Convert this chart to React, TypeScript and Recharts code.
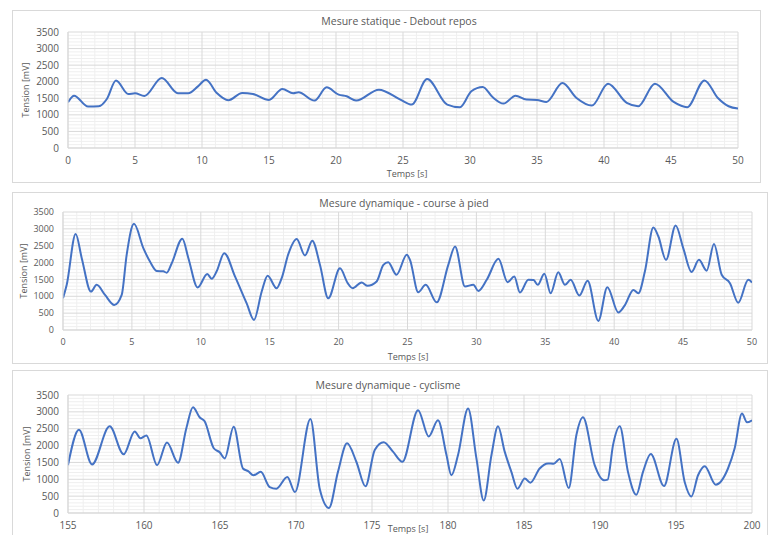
import React from 'react';
import { LineChart, Line, XAxis, YAxis, ReferenceLine } from 'recharts';

// ---- Data: Mesure statique - Debout repos ----
const staticTimes = [0, 0.45, 1.5, 2.3, 2.9, 3.58, 4.5, 5.0, 5.7, 7.0, 8.2, 8.97, 9.7, 10.3, 11.1, 11.96, 13.0, 13.8, 15.0, 16.0, 16.8, 17.2, 18.4, 19.3, 20.2, 20.8, 21.5, 23.2, 24.8, 25.65, 26.8, 28.3, 29.25, 30.1, 30.95, 31.7, 32.5, 33.4, 34.2, 35.0, 35.7, 36.9, 37.95, 39.1, 40.3, 41.7, 42.55, 43.8, 45.2, 46.2, 47.5, 48.5, 49.3, 50];
const staticValues = [1380, 1580, 1250, 1260, 1480, 2040, 1630, 1650, 1570, 2110, 1650, 1650, 1860, 2060, 1660, 1440, 1660, 1630, 1450, 1780, 1650, 1680, 1430, 1830, 1610, 1560, 1430, 1760, 1460, 1310, 2080, 1310, 1230, 1710, 1840, 1530, 1340, 1580, 1460, 1450, 1390, 1960, 1510, 1280, 1940, 1360, 1260, 1940, 1390, 1230, 2040, 1510, 1260, 1190];

// ---- Data: Mesure dynamique - course à pied ----
const runTimes = [0, 0.27, 0.92, 1.36, 2.03, 2.44, 3.05, 3.72, 4.26, 4.62, 5.15, 5.83, 6.31, 6.8, 7.28, 7.52, 7.89, 8.66, 9.1, 9.77, 10.47, 10.79, 11.15, 11.7, 12.48, 13.33, 13.86, 14.42, 14.85, 15.5, 15.87, 16.35, 16.96, 17.56, 18.09, 18.65, 19.25, 20.1, 20.66, 21.02, 21.67, 22.1, 22.76, 23.25, 23.6, 24.2, 24.95, 25.18, 25.78, 26.32, 27.12, 27.96, 28.45, 29.17, 29.78, 30.14, 30.75, 31.6, 32.26, 32.75, 33.16, 33.77, 34.15, 34.45, 34.93, 35.39, 35.94, 36.43, 36.84, 37.47, 38.07, 38.85, 39.5, 40.3, 40.78, 41.39, 41.75, 42.23, 42.84, 43.2, 43.76, 44.46, 45.01, 45.62, 46.15, 46.71, 47.24, 47.8, 48.4, 49.0, 49.73, 50];
const runValues = [940, 1340, 2850, 2130, 1140, 1340, 1040, 740, 1040, 2230, 3150, 2430, 2030, 1750, 1740, 1700, 1980, 2710, 2130, 1260, 1660, 1520, 1740, 2280, 1590, 790, 300, 1140, 1610, 1240, 1540, 2250, 2700, 2210, 2650, 1930, 940, 1830, 1390, 1240, 1410, 1310, 1440, 1930, 2010, 1640, 2230, 2080, 1120, 1340, 820, 1930, 2480, 1290, 1340, 1160, 1490, 2110, 1420, 1590, 1110, 1490, 1480, 1340, 1670, 1090, 1710, 1340, 1490, 1020, 1460, 270, 1270, 520, 740, 1190, 1090, 1740, 3040, 2780, 2080, 3100, 2430, 1720, 2080, 1760, 2550, 1640, 1390, 810, 1490, 1410];

// ---- Data: Mesure dynamique - cyclisme ----
const bikeTimes = [155, 155.72, 156.58, 157.74, 158.66, 159.39, 159.76, 160.16, 160.86, 161.51, 162.24, 162.79, 163.22, 163.66, 163.99, 164.59, 164.98, 165.31, 165.9, 166.51, 166.85, 167.2, 167.68, 168.27, 168.71, 169.43, 169.93, 170.95, 171.56, 172.17, 172.76, 173.36, 173.97, 174.57, 175.18, 175.77, 176.38, 177.0, 178.03, 178.73, 179.34, 179.9, 180.22, 180.66, 181.32, 181.87, 182.35, 182.86, 183.29, 183.73, 184.17, 184.57, 185.05, 185.42, 186.03, 186.58, 186.95, 187.35, 187.94, 188.45, 188.88, 189.65, 190.26, 190.5, 190.86, 191.3, 191.84, 192.39, 192.83, 193.34, 194.21, 195.03, 195.57, 196.01, 196.45, 196.89, 197.61, 198.42, 198.86, 199.34, 199.67, 200];
const bikeValues = [1420, 2470, 1440, 2570, 1740, 2420, 2220, 2300, 1420, 2090, 1490, 2520, 3140, 2840, 2720, 1920, 1800, 1620, 2560, 1320, 1240, 1120, 1220, 770, 720, 1070, 620, 2790, 720, 150, 1220, 2070, 1520, 790, 1870, 2100, 1820, 1520, 3050, 2270, 2750, 1720, 1120, 1720, 3100, 1620, 370, 1720, 2570, 1820, 1220, 720, 1020, 900, 1320, 1470, 1460, 1600, 740, 2320, 2840, 1420, 970, 990, 2020, 2570, 1220, 540, 1220, 1750, 800, 2200, 920, 490, 1120, 1390, 840, 1320, 1920, 2950, 2690, 2750];

// ---- Tick labels ----
const yTicks = [0, 500, 1000, 1500, 2000, 2500, 3000, 3500];
const xTicksRun = [0, 5, 10, 15, 20, 25, 30, 35, 40, 45, 50];
const xTicksBike = [155, 160, 165, 170, 175, 180, 185, 190, 195, 200];

const toData = (ts: number[], vs: number[]) => ts.map((t, i) => ({ t, v: vs[i] }));

const W = 768;
const H = 535;
const FONT = '"Open Sans", sans-serif';
const TXT = '#595959';
const MAJOR = '#d9d9d9';
const MINOR = '#efefef';

type PanelProps = {
  frame: { x: number; y: number; w: number; h: number };
  plot: { l: number; t: number; r: number; b: number };
  title: string;
  titleX: number;
  titleY: number;
  xLabelX: number;
  xLabelY: number;
  yLabelX: number;
  data: { t: number; v: number }[];
  xDomain: [number, number];
  xTicks: number[];
  fontSize: number;
};

function Panel(p: PanelProps) {
  const minorX: number[] = [];
  for (let x = p.xDomain[0]; x <= p.xDomain[1]; x += 1) if ((x - p.xDomain[0]) % 5 !== 0) minorX.push(x);
  const minorY: number[] = [];
  for (let y = 100; y < 3500; y += 100) if (y % 500 !== 0) minorY.push(y);
  const yMid = (p.plot.t + p.plot.b) / 2;
  return (
    <>
      <div
        style={{
          position: 'absolute',
          left: p.frame.x,
          top: p.frame.y,
          width: p.frame.w,
          height: p.frame.h,
          border: '1px solid #d9d9d9',
          boxSizing: 'border-box',
          background: '#fff',
        }}
      />
      <div style={{ position: 'absolute', left: 0, top: 0 }}>
        <LineChart
          width={W}
          height={H}
          data={p.data}
          margin={{ top: p.plot.t, right: W - p.plot.r, bottom: H - p.plot.b - 20, left: p.plot.l - 40 }}
        >
          <XAxis
            type="number"
            dataKey="t"
            domain={p.xDomain}
            ticks={p.xTicks}
            interval={0}
            height={20}
            tickLine={false}
            axisLine={{ stroke: MAJOR }}
            tick={{ fill: TXT, fontSize: p.fontSize, fontFamily: FONT }}
            tickMargin={3}
            allowDataOverflow
          />
          <YAxis
            type="number"
            domain={[0, 3500]}
            ticks={yTicks}
            interval={0}
            width={40}
            tickLine={false}
            axisLine={{ stroke: MAJOR }}
            tick={{ fill: TXT, fontSize: p.fontSize, fontFamily: FONT }}
            tickMargin={3}
          />
          {minorX.map((x) => (
            <ReferenceLine key={'mx' + x} x={x} stroke={MINOR} strokeWidth={1} />
          ))}
          {minorY.map((y) => (
            <ReferenceLine key={'my' + y} y={y} stroke={MINOR} strokeWidth={1} />
          ))}
          {p.xTicks.map((x) => (
            <ReferenceLine key={'Mx' + x} x={x} stroke={MAJOR} strokeWidth={1} />
          ))}
          {yTicks.map((y) => (
            <ReferenceLine key={'My' + y} y={y} stroke={MAJOR} strokeWidth={1} />
          ))}
          <Line
            type="monotone"
            dataKey="v"
            stroke="#4472C4"
            strokeWidth={2}
            dot={false}
            isAnimationActive={false}
          />
        </LineChart>
      </div>
      <div
        style={{
          position: 'absolute',
          left: p.titleX,
          top: p.titleY,
          transform: 'translate(-50%, -50%)',
          whiteSpace: 'nowrap',
          fontFamily: FONT,
          fontSize: 10.5,
          color: TXT,
        }}
      >
        {p.title}
      </div>
      <div
        style={{
          position: 'absolute',
          left: p.xLabelX,
          top: p.xLabelY,
          transform: 'translate(-50%, -50%)',
          whiteSpace: 'nowrap',
          fontFamily: FONT,
          fontSize: 9,
          lineHeight: '11px',
          color: TXT,
        }}
      >
        Temps [s]
      </div>
      <div
        style={{
          position: 'absolute',
          left: p.yLabelX,
          top: yMid,
          transform: 'translate(-50%, -50%) rotate(-90deg)',
          whiteSpace: 'nowrap',
          fontFamily: FONT,
          fontSize: 9,
          color: TXT,
        }}
      >
        Tension [mV]
      </div>
    </>
  );
}

export default function App() {
  return (
    <div style={{ position: 'absolute', left: 0, top: 0, width: W, height: H, overflow: 'hidden', background: '#fff' }}>
      <Panel
        frame={{ x: 12, y: 10, w: 749, h: 173 }}
        plot={{ l: 68, t: 32, r: 738, b: 148 }}
        title="Mesure statique - Debout repos"
        titleX={399}
        titleY={21}
        xLabelX={407}
        xLabelY={173}
        yLabelX={25}
        data={toData(staticTimes, staticValues)}
        xDomain={[0, 50]}
        xTicks={xTicksRun}
        fontSize={10}
      />
      <Panel
        frame={{ x: 12, y: 192, w: 756, h: 172 }}
        plot={{ l: 63, t: 212, r: 752, b: 330 }}
        title="Mesure dynamique - course à pied"
        titleX={404}
        titleY={203}
        xLabelX={408}
        xLabelY={356}
        yLabelX={23}
        data={toData(runTimes, runValues)}
        xDomain={[0, 50]}
        xTicks={xTicksRun}
        fontSize={9}
      />
      <Panel
        frame={{ x: 12, y: 370, w: 756, h: 175 }}
        plot={{ l: 68, t: 395, r: 752, b: 513 }}
        title="Mesure dynamique - cyclisme"
        titleX={388}
        titleY={385}
        xLabelX={408}
        xLabelY={528}
        yLabelX={26}
        data={toData(bikeTimes, bikeValues)}
        xDomain={[155, 200]}
        xTicks={xTicksBike}
        fontSize={10}
      />
    </div>
  );
}
